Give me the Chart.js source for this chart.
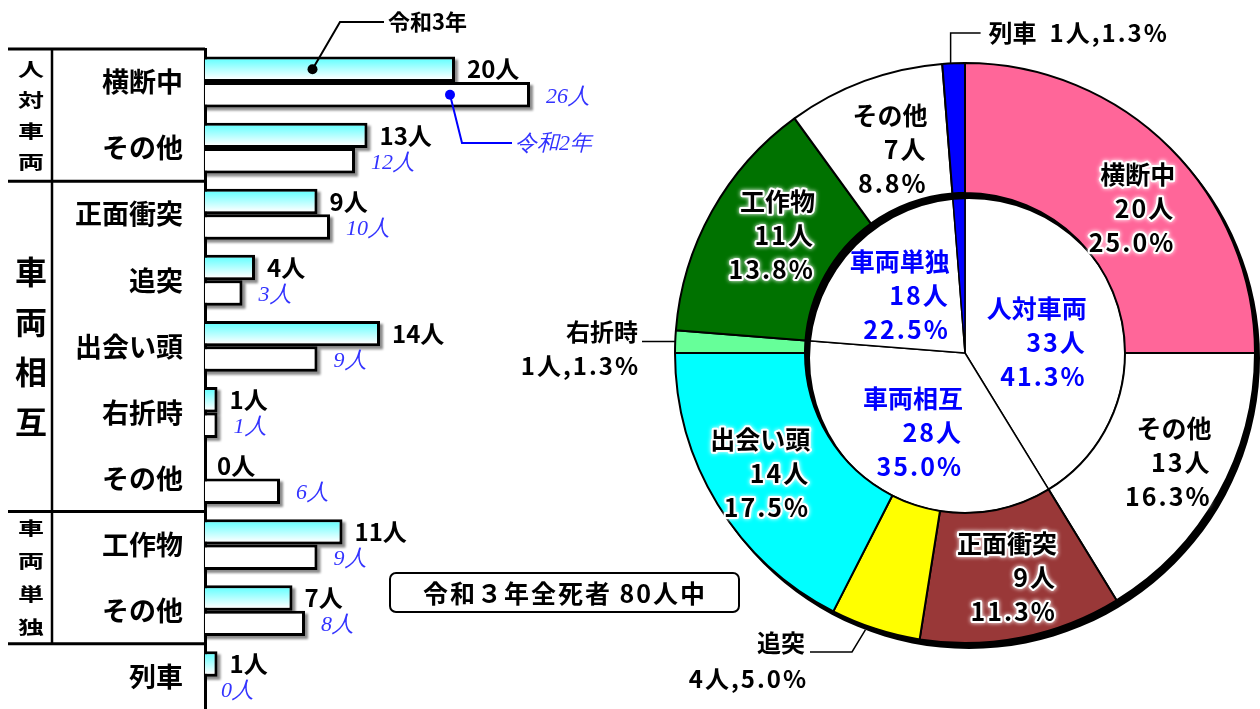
<!DOCTYPE html>
<html lang="ja">
<head>
<meta charset="utf-8">
<title>交通事故死者 事故類型別</title>
<script src="https://cdn.jsdelivr.net/npm/chart.js@4.4.1/dist/chart.umd.min.js"></script>
<style>
  html, body { margin: 0; padding: 0; background: #fff; width: 1260px; height: 709px; overflow: hidden; }
  canvas { position: absolute; left: 0; top: 0; }
</style>
</head>
<body>
<canvas id="ring" width="1270" height="716"></canvas>
<canvas id="bars" width="760" height="748"></canvas>
<script>
// ---- data: deaths by accident type ----
const categories = ['横断中', 'その他', '正面衝突', '追突', '出会い頭', '右折時', 'その他', '工作物', 'その他', '列車'];
const r3Values = [20, 13, 9, 4, 14, 1, 0, 11, 7, 1];   // 令和3年
const r2Values = [26, 12, 10, 3, 9, 1, 6, 9, 8, 0];    // 令和2年
const seriesNames = ['令和3年', '令和2年'];
const groupNames = ['人対車両', '車両相互', '車両単独'];
const groupRows = [[0, 1], [2, 6], [7, 8]];

const ringLabels = ['横断中', 'その他', '正面衝突', '追突', '出会い頭', '右折時', '工作物', 'その他', '列車'];
const ringValues = [20, 13, 9, 4, 14, 1, 11, 7, 1];
const coreLabels = ['人対車両', '車両相互', '車両単独', '列車'];
const coreValues = [33, 28, 18, 1];
const summaryText = '令和３年全死者 80人中';

const ringColors = ['#FF6699', '#FFFFFF', '#993838', '#FFFF00', '#00FFFF', '#66FF99', '#007200', '#FFFFFF', '#0000FF'];
const coreColors = ['#FFFFFF', '#FFFFFF', '#FFFFFF', '#0000FF'];

const GOTHIC = '"Noto Sans CJK JP", "Noto Sans", sans-serif';
const SERIF = '"Liberation Serif", "DejaVu Serif", serif';
const total = ringValues.reduce((a, b) => a + b, 0);
const pct = v => (v / total * 100).toFixed(1) + '%';

// ---- horizontal bar chart (left) ----
const BAR_PCT = 0.77;

function r3Fill(ctx) {
  const chart = ctx.chart;
  const y = chart.scales && chart.scales.y;
  if (!y || ctx.type !== 'data' || !chart.chartArea) return '#99ffff';
  const band = y.getPixelForValue(1) - y.getPixelForValue(0);
  const c = y.getPixelForValue(ctx.dataIndex);
  const top = c - band * BAR_PCT / 2;
  const g = chart.ctx.createLinearGradient(0, top, 0, c);
  g.addColorStop(0, '#55ffff');
  g.addColorStop(0.9, '#ffffff');
  return g;
}

const barShadow = {
  id: 'barShadow',
  beforeDatasetsDraw(chart) {
    const ctx = chart.ctx;
    ctx.save();
    ctx.fillStyle = 'rgba(0,0,0,0.45)';
    ctx.filter = 'blur(1px)';
    [0, 1].forEach(d => {
      chart.getDatasetMeta(d).data.forEach(el => {
        if (el.x - el.base < 1) return;
        ctx.fillRect(el.base, el.y - el.height / 2 + 3, el.x - el.base + 3, el.height);
      });
    });
    ctx.restore();
  }
};

const barText = {
  id: 'barText',
  afterDatasetsDraw(chart) {
    const ctx = chart.ctx;
    ctx.save();
    ctx.textBaseline = 'middle';
    ctx.textAlign = 'left';
    ctx.fillStyle = '#000';
    ctx.font = 'bold 24px ' + GOTHIC;
    chart.getDatasetMeta(0).data.forEach((el, i) => {
      ctx.fillText(r3Values[i] + '人', el.x + 12, el.y);
    });
    ctx.fillStyle = '#3333ff';
    ctx.font = 'italic 22px ' + SERIF;
    chart.getDatasetMeta(1).data.forEach((el, i) => {
      ctx.fillText(r2Values[i] + '人', el.x + 16, el.y + 2);
    });
    ctx.restore();
  }
};

const tableFrame = {
  id: 'tableFrame',
  afterDraw(chart) {
    const ctx = chart.ctx;
    const y = chart.scales.y, x = chart.scales.x;
    const left = chart.chartArea.left;
    const band = y.getPixelForValue(1) - y.getPixelForValue(0);
    const edge = i => y.getPixelForValue(i) - band / 2;
    ctx.save();
    ctx.strokeStyle = '#000';
    ctx.lineWidth = 3;
    [0, 2, 7, 9].forEach(i => {
      ctx.beginPath(); ctx.moveTo(8, edge(i)); ctx.lineTo(left, edge(i)); ctx.stroke();
    });
    ctx.lineWidth = 2.5;
    ctx.beginPath(); ctx.moveTo(52, edge(0)); ctx.lineTo(52, edge(9)); ctx.stroke();

    // group names, written vertically
    const styles = [
      { size: 26, sy: 0.72, step: 31 },
      { size: 32, sy: 1, step: 50 },
      { size: 26, sy: 0.72, step: 33 }
    ];
    ctx.fillStyle = '#000';
    ctx.textAlign = 'center';
    ctx.textBaseline = 'middle';
    groupNames.forEach((name, g) => {
      const s = styles[g];
      const mid = (edge(groupRows[g][0]) + edge(groupRows[g][1] + 1)) / 2;
      const chars = [...name];
      ctx.font = 'bold ' + s.size + 'px ' + GOTHIC;
      chars.forEach((ch, k) => {
        const cy = mid + (k - (chars.length - 1) / 2) * s.step;
        ctx.save();
        ctx.translate(31, cy);
        ctx.scale(1, s.sy);
        ctx.fillText(ch, 0, 0);
        ctx.restore();
      });
    });

    // series callouts
    const b3 = chart.getDatasetMeta(0).data[0];
    const b2 = chart.getDatasetMeta(1).data[0];
    const d3x = x.getPixelForValue(8.6), d3y = b3.y;
    ctx.lineWidth = 2;
    ctx.strokeStyle = '#000';
    ctx.beginPath(); ctx.moveTo(d3x, d3y); ctx.lineTo(340, 22); ctx.lineTo(384, 22); ctx.stroke();
    ctx.beginPath(); ctx.arc(d3x, d3y, 5, 0, Math.PI * 2); ctx.fillStyle = '#000'; ctx.fill();
    ctx.textAlign = 'left';
    ctx.font = 'bold 22px ' + GOTHIC;
    ctx.fillText(seriesNames[0], 388, 22);

    const d2x = x.getPixelForValue(19.6), d2y = b2.y;
    ctx.strokeStyle = '#0000ff';
    ctx.beginPath(); ctx.moveTo(d2x, d2y); ctx.lineTo(d2x + 12, 143); ctx.lineTo(512, 143); ctx.stroke();
    ctx.beginPath(); ctx.arc(d2x, d2y, 5, 0, Math.PI * 2); ctx.fillStyle = '#0000ff'; ctx.fill();
    ctx.fillStyle = '#3333ff';
    ctx.font = 'italic 22px ' + SERIF;
    ctx.fillText(seriesNames[1], 515, 144);

    // total box
    ctx.strokeStyle = '#000';
    ctx.lineWidth = 2;
    ctx.beginPath();
    ctx.roundRect(390, 573, 349, 39, 6);
    ctx.stroke();
    ctx.fillStyle = '#000';
    ctx.textAlign = 'center';
    ctx.font = 'bold 25px ' + GOTHIC;
    ctx.letterSpacing = '2px';
    ctx.fillText(summaryText, 565, 593);
    ctx.letterSpacing = '0px';
    ctx.restore();
  }
};

new Chart(document.getElementById('bars'), {
  type: 'bar',
  data: {
    labels: categories,
    datasets: [
      { label: seriesNames[0], data: r3Values, backgroundColor: r3Fill, borderColor: '#000', borderWidth: 3,
        categoryPercentage: BAR_PCT, barPercentage: 1 },
      { label: seriesNames[1], data: r2Values, backgroundColor: '#fff', borderColor: '#000', borderWidth: 3,
        categoryPercentage: BAR_PCT, barPercentage: 1 }
    ]
  },
  options: {
    indexAxis: 'y',
    responsive: false,
    animation: false,
    events: [],
    layout: { padding: { left: 0, top: 49, right: 105, bottom: 3 } },
    plugins: { legend: { display: false }, tooltip: { enabled: false } },
    scales: {
      x: { display: false, min: 0, max: 36 },
      y: {
        position: 'left',
        grid: { display: false, drawTicks: false },
        border: { display: true, color: '#000', width: 3 },
        ticks: { color: '#000', autoSkip: false, padding: 22, font: { family: GOTHIC, size: 27, weight: 'bold' } },
        afterFit(scale) { scale.width = 205; }
      }
    }
  },
  plugins: [barShadow, barText, tableFrame]
});

// ---- doughnut (right) ----
const ringNudge = [[8, 15], [7, 0], [-2, 4], null, [-13, 3], null, [3, -8], [3, 8], null];
const coreNudge = [[-13, 13], [-6, 4], [-3, 5], null];

function drawBlock(ctx, lines, cx, cy, color, halo) {
  ctx.font = 'bold 25px ' + GOTHIC;
  const spacing = k => (k === 0 ? '0px' : '2px');
  const widths = lines.map((t, k) => { ctx.letterSpacing = spacing(k); return ctx.measureText(t).width; });
  const w = Math.max(...widths);
  const right = cx + w / 2;
  ctx.textAlign = 'right';
  ctx.textBaseline = 'middle';
  lines.forEach((t, k) => {
    const ty = cy + (k - 1) * 34;
    ctx.letterSpacing = spacing(k);
    if (halo) {
      ctx.save();
      ctx.strokeStyle = '#fff';
      ctx.lineWidth = 4;
      ctx.lineJoin = 'round';
      ctx.shadowColor = '#fff';
      ctx.shadowBlur = 4;
      ctx.strokeText(t, right, ty);
      ctx.restore();
    }
    ctx.fillStyle = color;
    ctx.fillText(t, right, ty);
  });
  ctx.letterSpacing = '0px';
}

const ringDecor = {
  id: 'ringDecor',
  beforeDatasetDraw(chart, args) {
    if (args.index !== 0) return;
    const a = chart.getDatasetMeta(0).data[0];
    const ctx = chart.ctx;
    ctx.save();
    ctx.fillStyle = '#000';
    ctx.beginPath();
    ctx.arc(a.x + 4, a.y + 5, a.outerRadius + 1, 0, Math.PI * 2);
    ctx.arc(a.x + 4, a.y + 5, a.innerRadius - 1, 0, Math.PI * 2, true);
    ctx.fill();
    ctx.restore();
  },
  afterDraw(chart) {
    const ctx = chart.ctx;
    ctx.save();
    const ring = chart.getDatasetMeta(0).data;
    ring.forEach((arc, i) => {
      const v = ringValues[i];
      if (v <= 4) return;
      const mid = (arc.startAngle + arc.endAngle) / 2;
      const r = (arc.innerRadius + arc.outerRadius) / 2;
      const [dx, dy] = ringNudge[i];
      drawBlock(ctx, [ringLabels[i], v + '人', pct(v)],
        arc.x + r * Math.cos(mid) + dx, arc.y + r * Math.sin(mid) + dy, '#000', true);
    });
    const core = chart.getDatasetMeta(1).data;
    core.forEach((arc, i) => {
      const v = coreValues[i];
      if (v <= 4) return;
      const mid = (arc.startAngle + arc.endAngle) / 2;
      const r = arc.outerRadius * 0.55;
      const [dx, dy] = coreNudge[i];
      drawBlock(ctx, [coreLabels[i], v + '人', pct(v)],
        arc.x + r * Math.cos(mid) + dx, arc.y + r * Math.sin(mid) + dy, '#0000ff', false);
    });

    // small slices: labels outside with leader lines
    const edgePt = i => {
      const a = ring[i];
      const mid = (a.startAngle + a.endAngle) / 2;
      return { x: a.x + a.outerRadius * Math.cos(mid), y: a.y + a.outerRadius * Math.sin(mid) };
    };
    ctx.strokeStyle = '#000';
    ctx.lineWidth = 1.5;
    ctx.fillStyle = '#000';
    ctx.font = 'bold 24px ' + GOTHIC;
    ctx.textBaseline = 'middle';

    // 列車
    let p = edgePt(8);
    ctx.beginPath(); ctx.moveTo(p.x - 3, p.y); ctx.lineTo(p.x - 3, 33); ctx.lineTo(p.x + 27, 33); ctx.stroke();
    ctx.textAlign = 'left';
    ctx.fillText(ringLabels[8], p.x + 35, 33);
    ctx.letterSpacing = '2px';
    ctx.fillText(ringValues[8] + '人,' + pct(ringValues[8]), p.x + 96, 33);

    // 右折時
    p = edgePt(5);
    ctx.beginPath(); ctx.moveTo(p.x, p.y); ctx.lineTo(642, p.y); ctx.stroke();
    ctx.textAlign = 'right';
    ctx.letterSpacing = '0px';
    ctx.fillText(ringLabels[5], 638, 332);
    ctx.letterSpacing = '2px';
    ctx.fillText(ringValues[5] + '人,' + pct(ringValues[5]), 640, 366);

    // 追突
    p = edgePt(3);
    ctx.beginPath(); ctx.moveTo(p.x - 10, p.y + 1); ctx.lineTo(852, 652); ctx.lineTo(810, 652); ctx.stroke();
    ctx.letterSpacing = '0px';
    ctx.fillText(ringLabels[3], 805, 643);
    ctx.letterSpacing = '2px';
    ctx.fillText(ringValues[3] + '人,' + pct(ringValues[3]), 808, 679);
    ctx.letterSpacing = '0px';
    ctx.restore();
  }
};

new Chart(document.getElementById('ring'), {
  type: 'doughnut',
  data: {
    labels: ringLabels,
    datasets: [
      { data: ringValues, backgroundColor: ringColors, borderColor: '#000', borderWidth: 2, weight: 130 },
      { data: coreValues, backgroundColor: coreColors, borderColor: '#000', borderWidth: 1.5, weight: 160 }
    ]
  },
  options: {
    responsive: false,
    animation: false,
    events: [],
    cutout: 0,
    radius: 290,
    layout: { padding: { left: 665, right: 5, top: 53, bottom: 63 } },
    plugins: { legend: { display: false }, tooltip: { enabled: false } }
  },
  plugins: [ringDecor]
});
</script>
</body>
</html>
